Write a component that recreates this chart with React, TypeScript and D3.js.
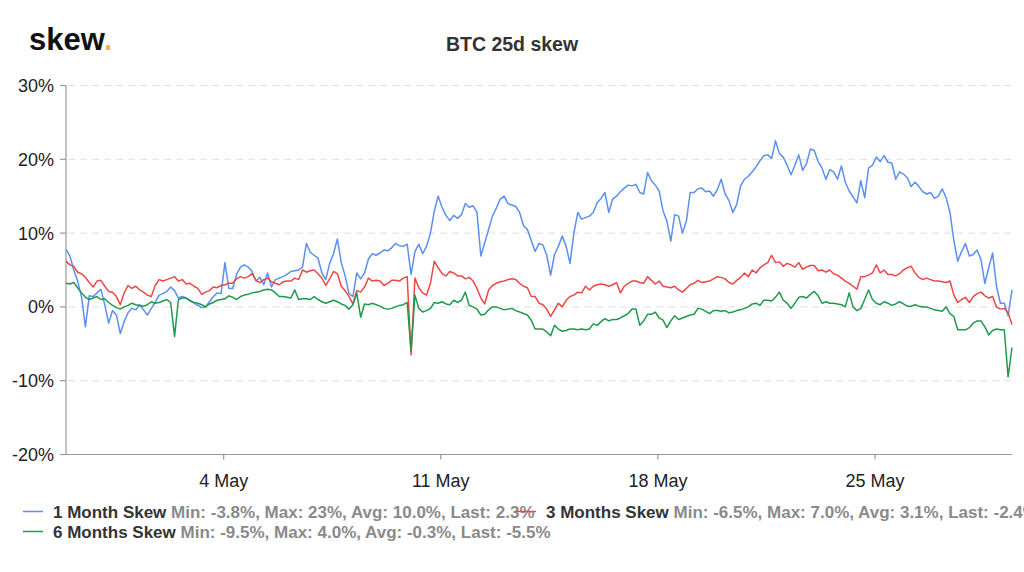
import React from "react";
import * as d3 from "d3";

// ---- data ----
const START = Date.UTC(2020, 3, 28, 22); // first sample
const STEP_HOURS = 3;

const oneMonthSkew = [
  7.8, 6.9, 5.0, 3.5, 1.4, -2.7, 1.5, 1.4, 1.9, 2.4,
  0.3, -2.2, -0.5, -1.1, -3.6, -2.0, -0.8, -0.2, -0.4, 0.3,
  -0.4, -1.1, -0.2, 0.6, 1.6, 1.8, 2.1, 2.7, 2.2, 1.2,
  1.4, 1.2, 0.9, 0.5, 0.2, -0.1, 0.0, 0.7, 1.4, 1.9,
  1.8, 6.0, 2.5, 2.5, 4.4, 5.4, 5.7, 5.4, 4.8, 3.5,
  4.0, 3.0, 4.6, 2.7, 3.7, 3.9, 4.1, 4.4, 4.8,
  4.9, 5.0, 5.4, 8.6, 7.4, 7.0, 6.6, 4.6, 3.7, 5.9, 7.2,
  9.2, 6.0, 4.2, 1.8, 1.4, 4.6, 3.8, 4.6, 6.5, 7.2,
  7.0, 7.3, 7.7, 7.6, 8.0, 8.6, 8.3, 8.2, 8.5, 4.4,
  7.5, 8.5, 7.2, 8.2, 10.0, 13.0, 15.0, 13.5, 12.4, 11.7,
  12.4, 12.0, 12.5, 14.0, 13.5, 13.7, 12.8, 6.9, 8.7, 10.5,
  12.3, 13.4, 14.6, 15.0, 14.0, 13.8, 13.6, 12.8, 11.0, 10.5,
  9.0,
  7.5, 8.6, 8.4, 7.0, 4.3, 7.1, 8.2, 9.6, 8.2,
  5.9, 10.0, 12.8, 11.9, 12.1, 12.3, 12.8, 14.1, 14.7, 15.5,
  12.8, 14.6, 15.0, 15.6, 16.1, 16.5, 16.4, 16.6, 15.5, 15.3,
  18.2, 17.1, 16.5, 15.7, 13.0, 11.6, 8.9, 12.5, 12.3, 10.0,
  11.6, 15.5, 15.5, 16.0, 16.1, 15.6, 15.7, 15.0, 15.9, 17.3,
  15.3, 14.4, 12.8, 13.9, 16.4, 17.3, 17.7, 18.3, 19.0, 19.8,
  20.5, 20.6, 20.1, 22.5, 20.8, 20.3, 19.2, 17.9, 19.2, 20.6,
  18.5, 19.4, 21.4, 21.2, 19.7, 18.8, 17.3, 18.6, 18.3, 17.3,
  19.1, 16.9, 15.7, 14.9, 14.1, 17.1, 14.8, 18.8, 19.2, 20.3,
  19.7, 20.5, 19.6, 19.5, 17.3, 18.3, 18.0, 17.5, 16.3, 16.9,
  16.3, 15.6, 15.3, 15.5, 14.7, 15.0, 16.0, 14.8, 12.8, 9.0,
  6.2, 7.5, 8.6, 6.9, 7.1, 7.7, 6.4, 3.2, 5.3, 7.3,
  2.8, 0.5, 0.5, -1.2, 2.3,
];

const threeMonthsSkew = [
  6.2, 5.7, 5.5, 4.7, 4.5, 4.0, 3.3, 2.7, 3.5, 3.6,
  2.8, 2.1, 2.0, 1.4, 0.3, 1.9, 2.9, 2.5, 2.8, 2.3,
  2.0, 1.6, 1.4, 2.9, 3.7, 3.5, 3.7, 3.9, 4.1, 3.5,
  3.7, 3.1, 3.2, 2.8, 2.5, 1.7, 2.0, 2.2, 2.7, 2.6,
  2.9, 3.0, 3.2, 3.2, 3.8, 4.1, 3.9, 4.1, 4.5, 3.6,
  3.3, 3.7, 3.9, 3.4, 3.2, 3.0, 3.4, 3.5, 3.5,
  3.9, 3.7, 5.0, 4.7, 4.9, 5.0, 4.5, 3.9, 2.9, 3.8, 4.8,
  4.5, 2.8, 2.2, 1.4, 0.4, 2.2, 2.0, 2.7, 3.9, 3.5,
  3.6, 3.5, 2.9, 3.2, 3.6, 3.6, 3.5, 3.9, 4.1, -6.5,
  3.9, 2.6, 1.9, 1.6, 3.2, 6.2, 5.3, 4.5, 4.2, 4.8,
  4.6, 4.2, 4.2, 3.8, 4.0, 3.5, 2.5, 1.2, 0.4, 2.3,
  2.9, 3.2, 3.4, 3.5, 3.7, 3.8, 3.7, 3.2, 2.8, 2.6,
  1.4,
  1.4, 0.5, 0.3, -0.3, -1.3, -0.4, 0.5, 0.0, 0.9,
  1.4, 1.6, 2.0, 1.9, 2.8, 2.3, 2.8, 3.0, 3.1, 3.0,
  2.8, 3.0, 3.3, 1.9, 2.8, 3.2, 3.5, 3.5, 3.3, 3.2,
  4.1, 3.6, 3.1, 3.5, 2.8, 2.7, 2.6, 2.8, 2.3, 2.0,
  2.5, 3.0, 3.2, 3.6, 3.3, 3.4, 3.5, 3.8, 4.1, 4.0,
  3.8, 3.3, 3.1, 3.6, 4.0, 4.6, 4.1, 5.0, 4.6, 5.3,
  5.7, 6.0, 7.0, 6.0, 6.1, 5.5, 5.9, 5.7, 5.4, 6.0,
  5.1, 5.4, 5.6, 5.6, 4.9, 5.0, 4.7, 5.0, 4.5, 4.3,
  3.9, 3.5, 3.2, 2.8, 2.4, 4.1, 4.1, 4.3, 4.6, 5.7,
  4.6, 5.0, 4.4, 4.4, 4.2, 4.5, 5.0, 5.3, 5.5, 4.6,
  4.0, 3.7, 3.9, 3.7, 3.5, 3.5, 3.4, 3.3, 3.5, 1.6,
  0.6, 1.0, 1.3, 0.6, 1.4, 1.8, 2.0, 1.5, 1.2, 1.4,
  0.0, -0.3, -0.2, -0.8, -2.4,
];

const sixMonthsSkew = [
  3.2, 3.1, 3.3, 2.6, 1.9, 1.3, 1.0, 1.2, 1.4, 1.0,
  1.1, 0.6, 0.2, -0.1, -0.3, 0.0, 0.2, 0.5, 0.3, 0.2,
  0.1, 0.3, 0.7, 0.5, 0.6, 0.8, 1.0, 0.6, -4.0, 1.0,
  1.2, 1.2, 0.8, 0.6, 0.5, 0.3, 0.0, 0.4, 0.6, 0.9,
  1.0, 1.1, 1.5, 1.3, 1.0, 1.4, 1.6, 1.7, 1.9, 2.0,
  2.1, 2.3, 2.4, 2.3, 1.9, 1.4, 1.4, 1.3, 1.2,
  2.3, 1.0, 1.1, 1.1, 1.0, 1.4, 1.0, 0.7, 0.5, 0.7, 0.9,
  0.7, 0.4, 0.2, -0.3, 0.3, 1.9, -1.4, 0.4, 0.3, 0.5,
  0.3, 0.1, -0.2, -0.3, -0.2, 0.0, 0.2, 0.3, 0.6, -6.0,
  1.6, -0.2, -0.7, -0.5, -0.2, 0.6, 0.5, 0.7, 0.4, 0.3,
  0.9, 0.6, 0.9, 2.0, 0.2, 0.0, -0.3, -1.1, -1.0, -0.4,
  0.0, 0.0, -0.2, -0.4, -0.3, -0.2, -0.5, -0.7, -0.9, -1.1,
  -1.8,
  -3.0, -3.0, -3.0, -3.4, -3.9, -2.5, -3.0, -3.3, -3.2,
  -3.0, -3.0, -3.1, -3.0, -3.1, -3.0, -2.3, -2.5, -2.0, -1.6,
  -1.9, -1.7, -1.7, -1.5, -1.2, -0.9, -0.3, -0.3, -2.5, -1.9,
  -1.0, -1.0, -0.7, -1.5, -1.8, -2.8, -1.9, -1.2, -1.7, -1.5,
  -1.3, -1.1, -1.0, -0.2, -0.3, -0.6, -0.9, -0.5, -0.5, -0.6,
  -0.5, -0.8, -0.7, -0.5, -0.4, -0.2, 0.0, 0.4, 0.5, 0.2,
  0.9, 0.9, 0.8, 1.3, 2.0, 0.9, 0.5, -0.2, 0.5, 1.3,
  1.4, 1.2, 1.7, 2.1, 1.5, 0.5, 0.7, 0.5, 0.5, 0.4,
  0.3, 0.0, 1.9, 0.0, -0.5, -0.2, 1.0, 2.3, 1.0, 0.5,
  0.3, 0.7, 0.5, 0.2, 0.4, 0.7, 0.4, 0.1, 0.1, 0.3,
  0.1, 0.0, 0.0, -0.2, -0.4, -0.5, -0.6, 0.0, -0.9, -1.3,
  -3.1, -3.1, -3.1, -2.8, -2.2, -1.9, -1.9, -2.7, -3.8, -3.2,
  -3.0, -3.1, -3.1, -9.5, -5.5,
];

const seriesNames = ["1 Month Skew", "3 Months Skew", "6 Months Skew"];
const seriesStats = [
  "Min: -3.8%, Max: 23%, Avg: 10.0%, Last: 2.3%",
  "Min: -6.5%, Max: 7.0%, Avg: 3.1%, Last: -2.4%",
  "Min: -9.5%, Max: 4.0%, Avg: -0.3%, Last: -5.5%",
];
const seriesColors = ["#5b8ff0", "#ee4646", "#1e9a4c"];
const yTicks = [-20, -10, 0, 10, 20, 30];
const xTickDates = ["2020-05-04", "2020-05-11", "2020-05-18", "2020-05-25"];
const chartTitle = "BTC 25d skew";

const FONT = '"Liberation Sans", Arial, Helvetica, sans-serif';

export default function App() {
  const W = 1024;
  const H = 572;
  const left = 66;
  const right = 1012;
  const top = 85.5;
  const bottom = 454.5;
  const stepMs = STEP_HOURS * 3600 * 1000;
  const n = oneMonthSkew.length;

  const x = d3
    .scaleUtc()
    .domain([new Date(START), new Date(START + (n - 1) * stepMs)])
    .range([left, right]);
  const y = d3.scaleLinear().domain([-20, 30]).range([bottom, top]);

  const mkLine = d3
    .line<number>()
    .x((_, i) => x(new Date(START + i * stepMs)))
    .y((d) => y(d));

  const series = [oneMonthSkew, threeMonthsSkew, sixMonthsSkew];
  const fmtDate = d3.utcFormat("%-d %b");
  const xTicks = xTickDates.map((s) => new Date(s + "T00:00:00Z"));

  // legend layout: [markerX, textX, rowY]
  const legendPos = [
    [23, 53, 517.5],
    [516, 546, 517.5],
    [23, 53, 537.5],
  ];

  return (
    <svg
      width={W}
      height={H}
      style={{ position: "absolute", left: 0, top: 0, background: "#fff" }}
      fontFamily={FONT}
    >
      <rect width={W} height={H} fill="#fff" />
      {/* logo */}
      <text x={29} y={50} fontSize={31} fontWeight="bold" fill="#111" fontFamily={FONT}>
        skew<tspan fill="#f0b24a">.</tspan>
      </text>
      {/* title */}
      <text x={512} y={51} fontSize={19.5} fontWeight="bold" fill="#333" textAnchor="middle">
        {chartTitle}
      </text>

      {/* grid */}
      {yTicks
        .filter((t) => t !== -20)
        .map((t) => (
          <line
            key={"g" + t}
            x1={left + 2}
            x2={right}
            y1={y(t)}
            y2={y(t)}
            stroke="#e0e0e0"
            strokeWidth={1}
            strokeDasharray="7,5"
          />
        ))}

      {/* y axis */}
      <line x1={left} x2={left} y1={top} y2={bottom} stroke="#999" strokeWidth={1.2} />
      {yTicks.map((t) => (
        <g key={"y" + t}>
          <line x1={left - 6} x2={left} y1={y(t)} y2={y(t)} stroke="#999" strokeWidth={1.2} />
          <text x={54} y={y(t) + 6.5} fontSize={18} fill="#222" textAnchor="end">
            {t + "%"}
          </text>
        </g>
      ))}

      {/* x axis */}
      <line x1={left} x2={right} y1={bottom} y2={bottom} stroke="#999" strokeWidth={1.2} />
      {xTicks.map((d) => (
        <g key={d.toISOString()}>
          <line x1={x(d)} x2={x(d)} y1={bottom} y2={bottom + 5} stroke="#999" strokeWidth={1.2} />
          <text x={x(d)} y={487} fontSize={18} fill="#222" textAnchor="middle">
            {fmtDate(d)}
          </text>
        </g>
      ))}

      {/* series */}
      {series.map((s, k) => (
        <path
          key={"s" + k}
          d={mkLine(s) || ""}
          fill="none"
          stroke={seriesColors[k]}
          strokeWidth={1.5}
          strokeLinejoin="round"
        />
      ))}

      {/* legend */}
      {seriesNames.map((name, k) => {
        const [, tx, ry] = legendPos[k];
        return (
          <text key={"l" + k} x={tx} y={ry} fontSize={17} fontWeight="bold" fill="#333">
            {name}
            <tspan fill="#8a8a8a">{" " + seriesStats[k]}</tspan>
          </text>
        );
      })}
      {seriesNames.map((name, k) => {
        const [mx, , ry] = legendPos[k];
        return (
          <line
            key={"m" + k}
            x1={mx}
            x2={mx + 20}
            y1={ry - 6}
            y2={ry - 6}
            stroke={seriesColors[k]}
            strokeWidth={1.5}
          />
        );
      })}
    </svg>
  );
}
